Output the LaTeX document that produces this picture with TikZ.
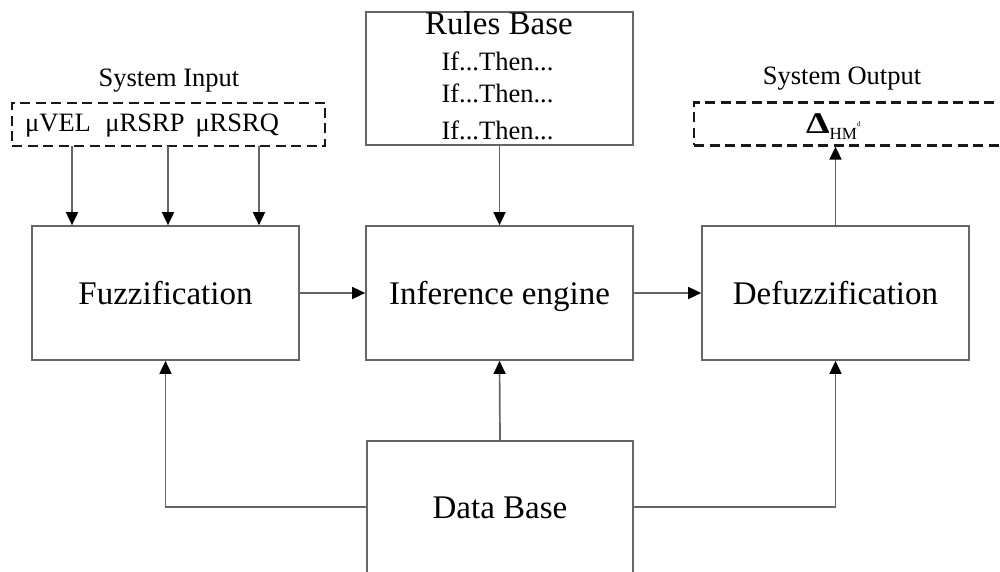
\documentclass[tikz,border=0pt]{standalone}
\usepackage{fontspec}
\setmainfont{Liberation Serif}
\usetikzlibrary{arrows.meta}
\newcommand{\bigtxt}{\fontsize{33}{36}\selectfont}
\newcommand{\midtxt}{\fontsize{26.5}{30}\selectfont}
\begin{document}
\begin{tikzpicture}[x=1pt,y=-1pt,
  line/.style={draw=black!60, line width=1.7pt},
  arr/.style={line, -{Triangle[length=13pt,width=12pt,color=black]}},
  block/.style={line, fill=white, minimum width=267pt, minimum height=134pt,
    inner sep=0pt, font=\bigtxt, text height=22pt, text depth=0pt},
  dashbox/.style={draw=black!90, line width=2.3pt, dash pattern=on 10pt off 5.5pt,
    minimum height=43pt, inner sep=0pt},
  lbl/.style={anchor=base, inner sep=0pt, font=\midtxt}
]
\clip (0,0) rectangle (1000,572);
\fill[white] (0,0) rectangle (1000,572);

% main processing blocks
\node[block] (fuzz) at (165.5,293) {Fuzzification};
\node[block] (inf)  at (499.5,293) {Inference engine};
\node[block] (defz) at (835.5,293) {Defuzzification};
\node[block, minimum height=133pt, text height=0pt] (rules) at (499.5,78.5) {};
\node[block, minimum width=266pt, minimum height=132pt] (db) at (500,507) {Data Base};

% rule base contents
\node[anchor=base, inner sep=0pt, font=\bigtxt] (rtitle) at (499,35) {Rules Base};
\node[lbl] (r1) at (497.5,71) {If...Then...};
\node[lbl] (r2) at (497.5,103) {If...Then...};
\node[lbl] (r3) at (497.5,140) {If...Then...};

% input and output frames
\node[dashbox, minimum width=313pt] (sysin) at (168.5,124.5) {};
\node[dashbox, minimum width=330pt] (sysout) at (859,124) {};
\node[lbl] (intitle) at (169,87) {System Input};
\node[lbl] (outtitle) at (842,85) {System Output};
\node[anchor=base west, inner sep=0pt, font=\midtxt] (invars) at (25,132)
  {μVEL\hspace{0.3em} μRSRP\, μRSRQ};
\node[anchor=base west, inner sep=0pt] (delta) at (806,134)
  {\scalebox{1.25}[1]{\fontsize{30}{32}\selectfont\bfseries Δ}%
   \raisebox{-6pt}{\fontsize{17}{18}\selectfont HM\raisebox{13pt}{\fontsize{7}{7}\selectfont d}}};

% input connectors
\coordinate (i1) at (72,146);
\coordinate (i2) at (168,146);
\coordinate (i3) at (259,146);
\draw[arr] (i1) -- (i1 |- fuzz.north);
\draw[arr] (i2) -- (i2 |- fuzz.north);
\draw[arr] (i3) -- (i3 |- fuzz.north);

% forward path
\draw[arr] (rules.south) -- (inf.north);
\draw[arr] (fuzz.east) -- (inf.west);
\draw[arr] (inf.east) -- (defz.west);
\draw[arr] (defz.north) -- (defz.north |- sysout.south);

% data base feeds
\draw[arr] (db.north) -- (inf.south);
\draw[arr] (db.west) -| (fuzz.south);
\draw[arr] (db.east) -| (defz.south);
\end{tikzpicture}
\end{document}
